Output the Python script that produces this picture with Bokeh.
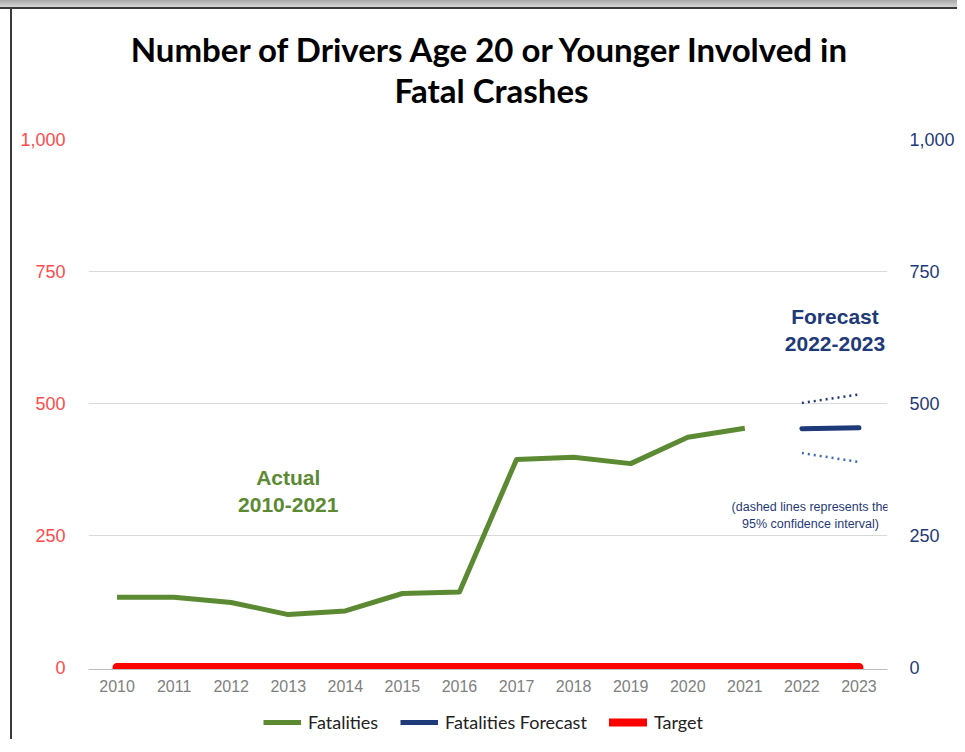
from bokeh.plotting import figure
from bokeh.models import (LinearAxis, FixedTicker, NumeralTickFormatter, Legend,
                          LegendItem, Label, Range1d)
from bokeh.layouts import column
from bokeh.embed import file_html
from bokeh.resources import INLINE

# ---- data ----
years_actual = [2010, 2011, 2012, 2013, 2014, 2015, 2016, 2017, 2018, 2019, 2020, 2021]
fatalities = [133, 133, 123, 100, 107, 140, 143, 394, 398, 386, 436, 453]
years_forecast = [2022, 2023]
forecast = [452, 454]
ci_upper = [501, 517]
ci_lower = [406, 389]
years_all = list(range(2010, 2024))
target = [0] * len(years_all)
y_ticks = [0, 250, 500, 750, 1000]
title_lines = ["Number of Drivers Age 20 or Younger Involved in", "Fatal Crashes"]
series_names = ["Fatalities", "Fatalities Forecast", "Target"]

GREEN = "#5B8A33"
NAVY = "#1F3A78"
LIGHTBLUE = "#3C6CB8"
RED = "#FF0000"
LRED = "#FF4B4B"
W = 957
FRAME_L, FRAME_R = 88, 893


def bare(fig):
    fig.border_fill_color = None
    fig.background_fill_color = None
    fig.outline_line_color = None
    fig.xgrid.visible = False
    fig.ygrid.visible = False
    return fig


# ---- title strip (frame is aligned with the chart frame by the column layout) ----
pt = bare(figure(width=W, height=110, output_backend="svg", toolbar_location=None,
                 x_range=Range1d(FRAME_L, FRAME_R), y_range=Range1d(0, 110),
                 x_axis_location=None, y_axis_location=None,
                 min_border_left=FRAME_L, min_border_right=W - FRAME_R,
                 min_border_top=0, min_border_bottom=0, title=None))
for ty, line in zip([62, 21], title_lines):
    pt.add_layout(Label(x=494, y=ty, text=line, text_align="center", text_baseline="middle",
                        text_font="Lato", text_font_style="bold", text_font_size="33px",
                        text_color="black"))

# ---- main chart ----
p = figure(width=W, height=595, output_backend="svg", toolbar_location=None,
           x_range=Range1d(2009.5, 2023.5), y_range=Range1d(-4, 1000),
           min_border_left=FRAME_L, min_border_right=W - FRAME_R, min_border_top=29,
           min_border_bottom=36, title=None)
p.border_fill_color = None
p.background_fill_color = "white"
p.outline_line_color = None

p.xaxis.ticker = FixedTicker(ticks=years_all)
p.xaxis.axis_line_color = "#BFBFBF"
p.xaxis.major_tick_line_color = None
p.xaxis.minor_tick_line_color = None
p.xaxis.major_label_text_color = "#808080"
p.xaxis.major_label_text_font = "Liberation Sans"
p.xaxis.major_label_text_font_size = "16px"
p.xaxis.major_label_standoff = 4
p.xgrid.grid_line_color = None

p.yaxis.ticker = FixedTicker(ticks=y_ticks)
p.yaxis.formatter = NumeralTickFormatter(format="0,0")
p.yaxis.axis_line_color = None
p.yaxis.major_tick_line_color = None
p.yaxis.minor_tick_line_color = None
p.yaxis.major_label_text_color = LRED
p.yaxis.major_label_text_font = "Liberation Sans"
p.yaxis.major_label_text_font_size = "18px"
p.yaxis.major_label_standoff = 17
p.ygrid.ticker = FixedTicker(ticks=[250, 500, 750, 1000])
p.ygrid.grid_line_color = "#D9D9D9"

ra = LinearAxis(ticker=FixedTicker(ticks=y_ticks), formatter=NumeralTickFormatter(format="0,0"))
ra.axis_line_color = None
ra.major_tick_line_color = None
ra.minor_tick_line_color = None
ra.major_label_text_color = NAVY
ra.major_label_text_font = "Liberation Sans"
ra.major_label_text_font_size = "18px"
ra.major_label_standoff = 16
p.add_layout(ra, "right")

p.line(years_all, target, line_color=RED, line_width=9, line_cap="round")
p.line(years_actual, fatalities, line_color=GREEN, line_width=5, line_join="round")
p.line(years_forecast, forecast, line_color=NAVY, line_width=5, line_cap="round")
p.line(years_forecast, ci_upper, line_color=NAVY, line_width=2.5, line_dash="2 4")
p.line(years_forecast, ci_lower, line_color=LIGHTBLUE, line_width=2.5, line_dash="2 4")

p.add_layout(Label(x=2013, y=334, text="Actual\n2010-2021", text_align="center",
                   text_baseline="middle", text_color=GREEN, text_font="Liberation Sans",
                   text_font_style="bold", text_font_size="21px"))
p.add_layout(Label(x=2022.58, y=639, text="Forecast\n2022-2023", text_align="center",
                   text_baseline="middle", text_color=NAVY, text_font="Liberation Sans",
                   text_font_style="bold", text_font_size="21px"))
p.add_layout(Label(x=2022.15, y=288, text="(dashed lines represents the\n95% confidence interval)",
                   text_align="center", text_baseline="middle", text_color=NAVY,
                   text_font="Liberation Sans", text_font_size="12.5px"))

# ---- legend strip (series drawn off-range; only their legend swatches show) ----
pl = bare(figure(width=W, height=34, output_backend="svg", toolbar_location=None,
                 x_range=Range1d(0, 1), y_range=Range1d(0, 1),
                 x_axis_location=None, y_axis_location=None,
                 min_border_left=FRAME_L, min_border_right=W - FRAME_R,
                 min_border_top=0, min_border_bottom=0, title=None))
l1 = pl.line(years_actual, fatalities, line_color=GREEN, line_width=5)
l2 = pl.line(years_forecast, forecast, line_color=NAVY, line_width=5)
l3 = pl.line(years_all, target, line_color=RED, line_width=8, line_cap="round")
legend = Legend(items=[LegendItem(label=n, renderers=[r]) for n, r in zip(series_names, [l1, l2, l3])],
                orientation="horizontal", location=(263 - FRAME_L, 6),
                label_text_font="Lato", label_text_font_size="18px",
                label_text_color="#222222", glyph_width=38, glyph_height=20,
                label_standoff=7, spacing=22, padding=4, margin=0,
                border_line_color=None, background_fill_alpha=0)
pl.add_layout(legend)

layout = column(pt, p, pl, spacing=0)
layout.styles = {"background": "linear-gradient(to right, transparent 10px, #3a3a3a 10px, #3a3a3a 12px, transparent 12px) 0 9px / 100% 100% no-repeat, linear-gradient(to bottom, #a8a8a8 0px, #d6d6d6 7px, #3a3a3a 7px, #3a3a3a 9px, transparent 9px) no-repeat"}

open("out.html", "w").write(file_html(layout, INLINE))
